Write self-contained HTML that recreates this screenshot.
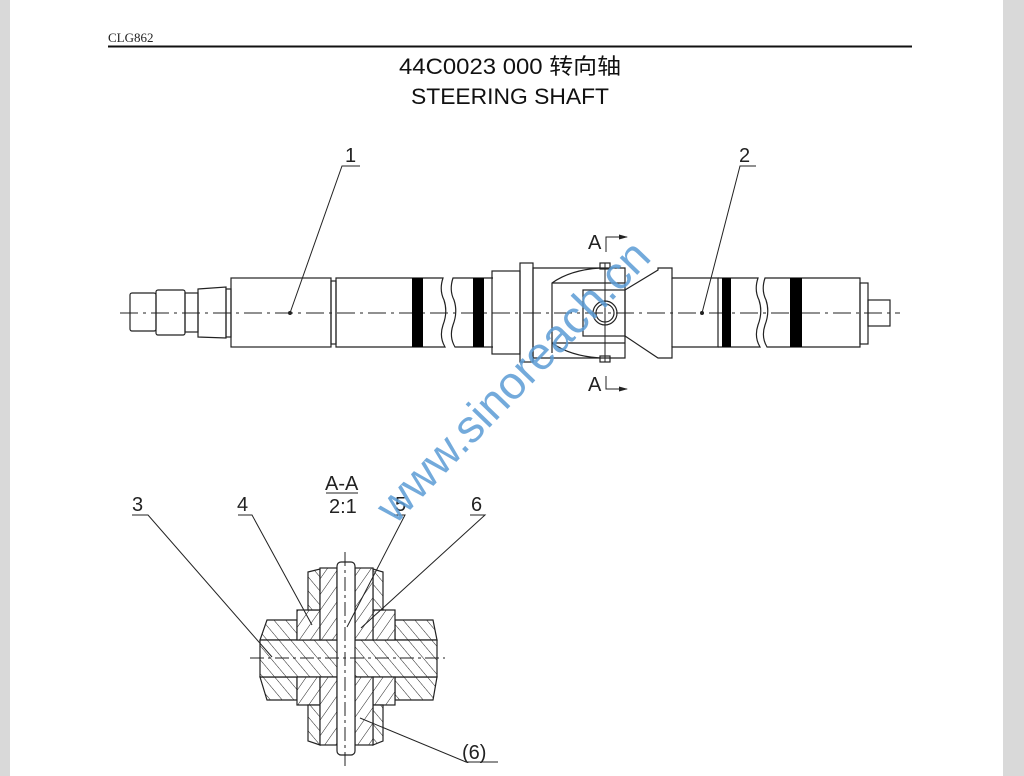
<!DOCTYPE html>
<html><head><meta charset="utf-8"><style>
html,body{margin:0;padding:0;width:1024px;height:776px;overflow:hidden;background:#d9d9d9;}
#pg{position:absolute;left:10px;top:0;width:993px;height:776px;background:#fff;}
svg{position:absolute;left:0;top:0}
</style></head><body>
<div id="pg"></div>
<svg width="1024" height="776" viewBox="0 0 1024 776" xmlns="http://www.w3.org/2000/svg">
<defs>
<pattern id="h1" width="9" height="9" patternUnits="userSpaceOnUse" patternTransform="rotate(35)"><rect width="9" height="9" fill="#fff"/><line x1="0" y1="0" x2="0" y2="9" stroke="#222" stroke-width="1"/></pattern>
<pattern id="h2" width="9" height="9" patternUnits="userSpaceOnUse" patternTransform="rotate(-40)"><rect width="9" height="9" fill="#fff"/><line x1="0" y1="0" x2="0" y2="9" stroke="#222" stroke-width="1"/></pattern>
</defs>
<text x="108" y="42" font-family="Liberation Serif,serif" font-size="13" fill="#222">CLG862</text>
<line x1="108" y1="46.5" x2="912" y2="46.5" stroke="#111" stroke-width="2"/>
<text x="510" y="74" text-anchor="middle" font-family="Liberation Sans,'Noto Sans CJK SC',sans-serif" font-size="22" fill="#111" textLength="222" lengthAdjust="spacingAndGlyphs">44C0023 000  转向轴</text>
<text x="510" y="104" text-anchor="middle" font-family="Liberation Sans,sans-serif" font-size="22" fill="#111" textLength="198" lengthAdjust="spacingAndGlyphs">STEERING SHAFT</text>

<g fill="none" stroke="#222" stroke-width="1.2">
<line x1="120" y1="313" x2="900" y2="313" stroke-dasharray="18,5,3,5" stroke-width="1"/>
<rect x="130" y="293" width="26" height="38" rx="2"/>
<rect x="156" y="290" width="29" height="45" rx="2"/>
<rect x="185" y="293" width="13" height="39"/>
<path d="M198 289 L226 287 L226 338 L198 337 Z"/>
<rect x="226" y="289" width="5" height="48"/>
<rect x="231" y="278" width="100" height="69"/>
<rect x="331" y="281" width="5" height="63"/>
<path d="M336 278 H443 Q439 290 444 300 Q448 312 443 325 Q439 337 445 347 H336 Z"/>
<path d="M493 278 H453 Q449 290 454 300 Q458 312 453 325 Q449 337 455 347 H493"/>
<rect x="492" y="271" width="28" height="83"/>
<rect x="520" y="263" width="13" height="99"/>
<path d="M533 268 H625 V358 H533 Z"/>
<path d="M552 353 V283 Q570 270 600 268 M552 283 H625 M552 343 H625 M552 343 Q570 356 600 358"/>
<rect x="583" y="290" width="42" height="46"/>
<circle cx="605" cy="313" r="12"/><circle cx="605" cy="313" r="9"/>
<line x1="605" y1="263" x2="605" y2="362" stroke-width="1"/>
<rect x="600" y="263" width="10" height="6"/><rect x="600" y="356" width="10" height="6"/>
<path d="M625 290 L658 270 V268 H672 V278 H718 V347 H672 V358 H658 L625 336"/>
<line x1="672" y1="278" x2="672" y2="347"/>
<path d="M718 278 H758 Q754 290 759 300 Q763 312 758 325 Q754 337 760 347 H718"/>
<path d="M860 278 H765 Q761 290 766 300 Q770 312 765 325 Q761 337 767 347 H860 Z"/>
<rect x="860" y="283" width="8" height="61"/>
<rect x="868" y="300" width="22" height="26"/>
</g>
<g fill="#000">
<rect x="412" y="278" width="11" height="69"/>
<rect x="473" y="278" width="11" height="69"/>
<rect x="722" y="278" width="9" height="69"/>
<rect x="790" y="278" width="12" height="69"/>
</g>
<g stroke="#222" stroke-width="1" fill="none">
<path d="M290 313 L342 166 H360"/><circle cx="290" cy="313" r="1.5" fill="#222"/>
<path d="M702 313 L740 166 H756"/><circle cx="702" cy="313" r="1.5" fill="#222"/>
<path d="M606 252 V237 H627"/><path d="M606 376 V389 H627"/>
</g>
<path d="M628 237 L619 234.5 L619 239.5 Z M628 389 L619 386.5 L619 391.5 Z" fill="#222"/>
<g font-family="Liberation Sans,sans-serif" font-size="20" fill="#222">
<text x="345" y="162">1</text><text x="739" y="162">2</text>
<text x="588" y="249">A</text><text x="588" y="391">A</text>
</g>

<!-- section -->
<g stroke="#222" stroke-width="1.2">
<path d="M267 620 H297 V640 H260 Z" fill="url(#h2)"/>
<path d="M260 677 H297 V700 H267 Z" fill="url(#h2)"/>
<path d="M395 620 H433 L437 640 H395 Z" fill="url(#h2)"/>
<path d="M395 677 H437 L433 700 H395 Z" fill="url(#h2)"/>
<path d="M260 640 H437 V677 H260 Z" fill="url(#h2)"/>
<rect x="297" y="610" width="23" height="30" fill="url(#h1)"/>
<rect x="297" y="677" width="23" height="28" fill="url(#h1)"/>
<rect x="373" y="610" width="22" height="30" fill="url(#h1)"/>
<rect x="373" y="677" width="22" height="28" fill="url(#h1)"/>
<path d="M308 572 L320 569 V610 H308 Z" fill="url(#h2)"/>
<path d="M308 705 H320 V745 L308 741 Z" fill="url(#h2)"/>
<path d="M373 569 L383 572 V610 H373 Z" fill="url(#h2)"/>
<path d="M373 705 H383 V741 L373 745 Z" fill="url(#h2)"/>
<rect x="320" y="568" width="17" height="72" fill="url(#h1)"/>
<rect x="320" y="677" width="17" height="68" fill="url(#h1)"/>
<rect x="355" y="568" width="18" height="72" fill="url(#h1)"/>
<rect x="355" y="677" width="18" height="68" fill="url(#h1)"/>
<rect x="337" y="562" width="18" height="193" rx="4" fill="#fff"/>
<line x1="345" y1="552" x2="345" y2="768" stroke-dasharray="14,4,3,4" stroke-width="1"/>
<line x1="250" y1="658" x2="445" y2="658" stroke-dasharray="14,4,3,4" stroke-width="1"/>
</g>
<g stroke="#222" stroke-width="1" fill="none">
<path d="M272 657 L148 515 H132"/>
<path d="M312 625 L252 515 H238"/>
<path d="M347 627 L405 515 H394"/>
<path d="M361 628 L485 515 H470"/>
<path d="M360 718 L466 762 H498"/>
<line x1="326" y1="493" x2="358" y2="493"/>
</g>
<g font-family="Liberation Sans,sans-serif" font-size="20" fill="#222">
<text x="132" y="511">3</text><text x="237" y="511">4</text><text x="395" y="511">5</text><text x="471" y="511">6</text>
<text x="325" y="490">A-A</text><text x="329" y="513">2:1</text>
<text x="462" y="759">(6)</text>
</g>
<text x="0" y="0" transform="translate(524 392) rotate(-46)" text-anchor="middle" font-family="Liberation Sans,sans-serif" font-size="46" fill="#5b9bd5" fill-opacity="0.85">www.sinoreach.cn</text>
</svg>
</body></html>
